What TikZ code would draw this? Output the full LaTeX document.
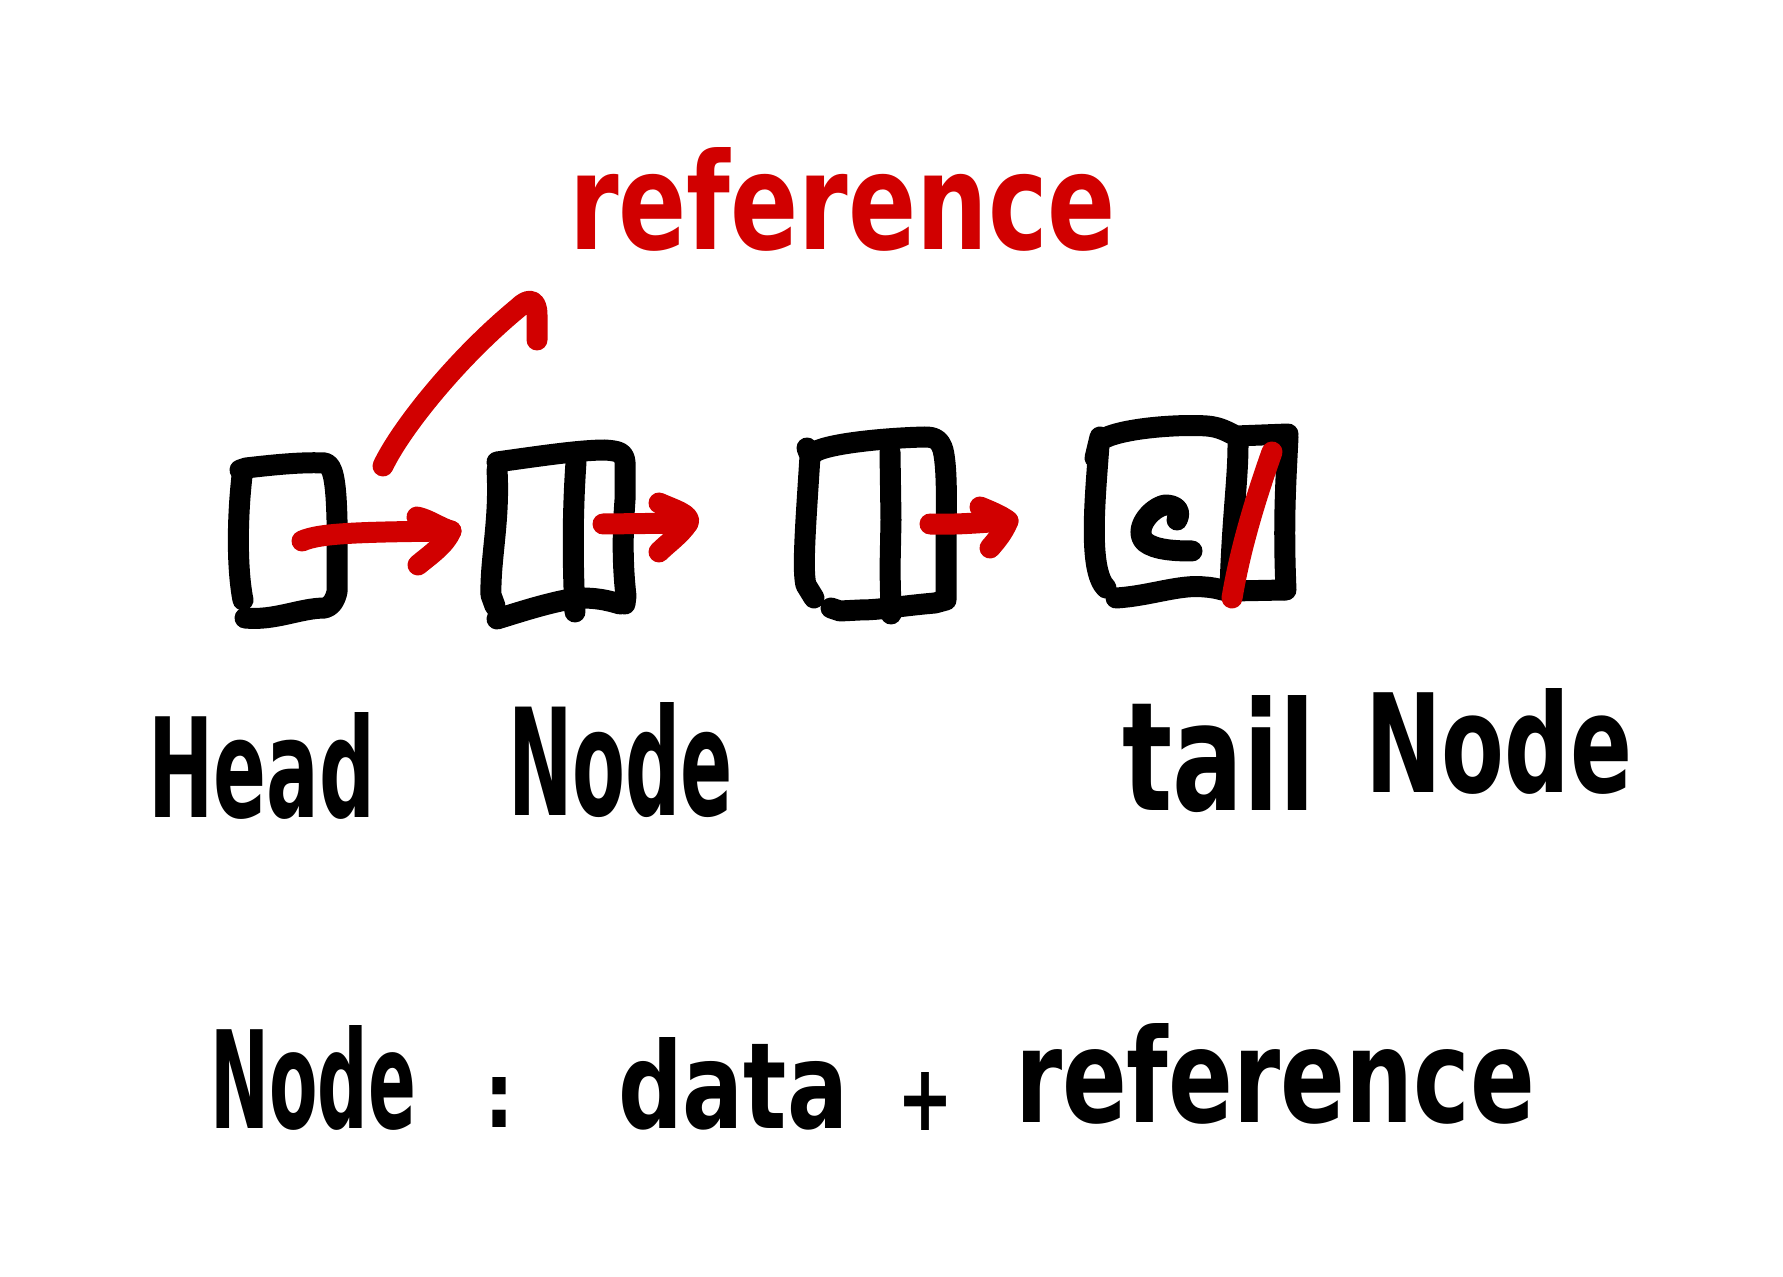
\documentclass[tikz,border=0pt]{standalone}
\usepackage{graphicx}
\usepackage{fontspec}
\setmainfont{DejaVu Sans}
\definecolor{inkred}{RGB}{209,0,0}
\newcommand\handword[3]{\resizebox{#1pt}{#2pt}{\bfseries #3}}
\begin{document}
\begin{tikzpicture}[x=0.5pt,y=-0.5pt,
  ink/.style={line width=10.5pt,line cap=round,line join=round,black},
  redink/.style={line width=10.5pt,line cap=round,line join=round,inkred},
  word/.style={anchor=base west,inner sep=0pt,outer sep=0pt,black},
  redword/.style={anchor=base west,inner sep=0pt,outer sep=0pt,inkred}]
\useasboundingbox (0,0) rectangle (1783,1277);
\fill[white] (0,0) rectangle (1783,1277);

% ---------- box 1 (head) ----------
\draw[ink] (242,476) .. controls (237,520) and (237,570) .. (243,600);
\draw[ink] (240,470) -- (246,468) .. controls (280,464) and (305,462) .. (325,463)
  .. controls (333,465) and (336,480) .. (337,520) -- (337,592)
  .. controls (335,600) and (332,606) .. (325,608)
  .. controls (300,608) and (275,621) .. (245,618);

% ---------- box 2 ----------
\draw[ink] (497,470) .. controls (500,520) and (490,560) .. (491,595) -- (495,606);
\draw[ink] (497,462) .. controls (540,456) and (580,450) .. (605,450)
  .. controls (618,451) and (624,452) .. (625,462) -- (625,500)
  .. controls (622,540) and (623,570) .. (626,596) -- (625,604);
\draw[ink] (620,604) .. controls (600,598) and (590,598) .. (577,598)
  .. controls (550,602) and (520,612) .. (497,619);
\draw[ink] (576,462) .. controls (572,520) and (573,570) .. (575,612);

% ---------- box 3 ----------
\draw[ink] (807,448) -- (810,456) .. controls (806,520) and (802,570) .. (806,585) -- (814,598);
\draw[ink] (812,455) .. controls (815,445) and (880,438) .. (925,437)
  .. controls (935,437) and (940,440) .. (943,450)
  .. controls (948,470) and (946,520) .. (946,540) -- (946,600) -- (935,603)
  .. controls (900,606) and (880,610) .. (860,610) -- (840,611) -- (831,608);
\draw[ink] (890,452) -- (891,520) -- (890,570) -- (891,614);

% ---------- box 4 (tail) ----------
\draw[ink] (1100,437) -- (1095,458);
\draw[ink] (1099,445) .. controls (1095,500) and (1088,570) .. (1106,588);
\draw[ink] (1101,440) .. controls (1120,428) and (1180,424) .. (1207,426)
  .. controls (1220,427) and (1228,432) .. (1236,436) -- (1288,434);
\draw[ink] (1238,445) .. controls (1238,480) and (1232,520) .. (1230,590);
\draw[ink] (1288,437) .. controls (1286,480) and (1283,520) .. (1286,590);
\draw[ink] (1116,598) .. controls (1150,596) and (1180,584) .. (1205,587)
  .. controls (1220,588) and (1225,592) .. (1232,591) -- (1285,590);
\draw[ink] (1177,520) .. controls (1182,510) and (1175,505) .. (1165,505)
  .. controls (1150,508) and (1133,530) .. (1145,542)
  .. controls (1155,550) and (1175,551) .. (1192,551);
\draw[redink] (1272,452) .. controls (1255,500) and (1240,550) .. (1232,598);

% ---------- red arrows ----------
\coordinate (a1s) at (302,541); \coordinate (a1e) at (451,531);
\draw[redink] (a1s) .. controls (320,533) and (360,532) .. (a1e);
\draw[redink] (417,517) .. controls (430,520) and (440,528) .. (a1e)
  .. controls (445,545) and (430,555) .. (418,565);

\coordinate (a2s) at (603,524); \coordinate (a2e) at (688,523);
\draw[redink] (a2s) -- (a2e);
\draw[redink] (659,503) .. controls (675,510) and (692,515) .. (a2e)
  .. controls (680,535) and (668,543) .. (659,552);

\coordinate (a3s) at (930,524); \coordinate (a3e) at (1008,521);
\draw[redink] (a3s) .. controls (960,525) and (985,522) .. (a3e);
\draw[redink] (980,507) .. controls (995,513) and (1003,517) .. (a3e)
  .. controls (1003,533) and (996,541) .. (990,548);

\coordinate (cs) at (383,466); \coordinate (ce) at (537,340);
\draw[redink] (cs) .. controls (400,430) and (455,360) .. (518,308)
  .. controls (528,298) and (537,298) .. (537,315) -- (ce);

% ---------- labels ----------
\node[redword] (ref) at (569,250) {\handword{273.5}{51}{reference}};
\node[word] (head) at (148,818) {\handword{113.5}{52.5}{Head}};
\node[word] (node2) at (508,815) {\handword{112.5}{56.5}{Node}};
\node[word] (tail) at (1122,810) {\handword{96.5}{57.5}{tail}};
\node[word] (node4) at (1365,792) {\handword{133.5}{52}{Node}};

\node[word] (nodeb) at (210,1128) {\handword{103}{51.5}{Node}};
\node[word] (colon) at (484,1127) {\handword{15}{25}{:}};
\node[word] (data) at (618,1128) {\handword{115}{45.5}{data}};
\node[word] (plus) at (897,1130) {\handword{28}{29}{+}};
\node[word] (refb) at (1015,1122) {\handword{260}{49.5}{reference}};
\end{tikzpicture}
\end{document}
